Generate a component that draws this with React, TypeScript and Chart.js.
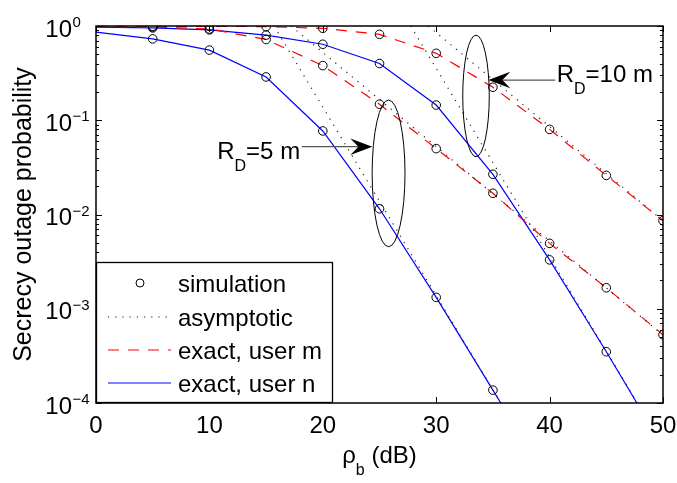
import React, { useEffect, useRef } from 'react';
import { Chart, registerables } from 'chart.js';

Chart.register(...registerables);

// ---------------- data ----------------
const snrDb = [0, 5, 10, 15, 20, 25, 30, 35, 40, 45, 50];
const exactUserM_RD5 = [0.985, 0.975, 0.93, 0.72, 0.38, 0.148, 0.05, 0.0168, 0.00494, 0.00167, 0.00053];
const exactUserM_RD10 = [0.995, 0.994, 0.992, 0.985, 0.945, 0.816, 0.513, 0.224, 0.08, 0.026, 0.0086];

const snrUserN_RD5 = [0, 5, 10, 15, 20, 25, 30, 35, 35.7];
const exactUserN_RD5 = [0.86, 0.73, 0.555, 0.288, 0.077, 0.0115, 0.00132, 0.000137, 0.0001];
const snrUserN_RD10 = [0, 5, 10, 15, 20, 25, 30, 35, 40, 45, 47.7];
const exactUserN_RD10 = [0.975, 0.955, 0.91, 0.8, 0.64, 0.4, 0.145, 0.0267, 0.0033, 0.00035, 0.0001];

const simSnrDb = [5, 10, 15, 20, 25, 30, 35, 40, 45, 50];
const simUserM_RD5 = [0.975, 0.93, 0.72, 0.38, 0.148, 0.05, 0.0168, 0.00494, 0.00167, 0.00053];
const simUserM_RD10 = [0.994, 0.992, 0.985, 0.945, 0.816, 0.513, 0.224, 0.08, 0.026, 0.0086];
const simUserN_RD5 = [0.73, 0.555, 0.288, 0.077, 0.0115, 0.00132, 0.000137, null, null, null];
const simUserN_RD10 = [0.955, 0.91, 0.8, 0.64, 0.4, 0.145, 0.0267, 0.0033, 0.00035, null];

const asymSnrUserM_RD5 = [17.2, 50];
const asymUserM_RD5 = [1, 0.000525];
const asymSnrUserN_RD5 = [15.7, 35.7];
const asymUserN_RD5 = [1, 0.0001];
const asymSnrUserM_RD10 = [29.3, 50];
const asymUserM_RD10 = [1, 0.0086];
const asymSnrUserN_RD10 = [27.75, 47.75];
const asymUserN_RD10 = [1, 0.0001];

const xTickValues = [0, 10, 20, 30, 40, 50];
const yTickExponents = [0, -1, -2, -3, -4];
const legendLabels = ['simulation', 'asymptotic', 'exact, user m', 'exact, user n'];
const xTitleParts = ['\u03c1', 'b', ' (dB)'];
const yTitle = 'Secrecy outage probability';

// annotations, anchored in data coordinates
const annotations = [
  {
    main: 'R', sub: 'D', rest: '=5 m', align: 'right',
    textAt: [18.0, 0.0388],
    arrowFrom: [18.14, 0.0524], arrowTo: [24.37, 0.0524],
    ellipse: { cx: 25.8, rx: 1.45, yTop: 0.164, yBottom: 0.00455 },
  },
  {
    main: 'R', sub: 'D', rest: '=10 m', align: 'left',
    textAt: [40.62, 0.2545],
    arrowFrom: [40.5, 0.267], arrowTo: [34.6, 0.267],
    ellipse: { cx: 33.51, rx: 1.17, yTop: 0.8, yBottom: 0.041 },
  },
];

// ---------------- styles ----------------
const FONT = '"Liberation Sans", Arial, Helvetica, sans-serif';
const RED = '#ff0000';
const BLUE = '#0000ff';
const DOT = '#222222';
const RED_DASH = [11, 9];
const DOT_DASH = [1.2, 6];
const RED_W = 1.2;
const BLUE_W = 1.2;
const DOT_W = 1.2;

const legendStyles = [
  { kind: 'marker', color: '#000', width: 1, dash: [] as number[] },
  { kind: 'line', color: DOT, width: DOT_W, dash: DOT_DASH },
  { kind: 'line', color: RED, width: RED_W, dash: RED_DASH },
  { kind: 'line', color: BLUE, width: BLUE_W, dash: [] as number[] },
];

const pts = (xs: number[], ys: (number | null)[]) =>
  xs.map((x, i) => ({ x, y: ys[i] })).filter((p) => p.y !== null);

const decorPlugin = {
  id: 'matlabDecor',
  afterDraw(chart: any) {
    const { ctx, chartArea: a } = chart;
    const xs = chart.scales.x;
    const ys = chart.scales.y;
    ctx.save();

    // ---- annotations (ellipses, arrows, labels) ----
    for (const an of annotations) {
      const cx = xs.getPixelForValue(an.ellipse.cx);
      const rx = xs.getPixelForValue(an.ellipse.cx + an.ellipse.rx) - cx;
      const top = ys.getPixelForValue(an.ellipse.yTop);
      const bot = ys.getPixelForValue(an.ellipse.yBottom);
      ctx.strokeStyle = '#000';
      ctx.lineWidth = 1;
      ctx.setLineDash([]);
      ctx.beginPath();
      ctx.ellipse(cx, (top + bot) / 2, rx, (bot - top) / 2, 0, 0, Math.PI * 2);
      ctx.stroke();

      const fx = xs.getPixelForValue(an.arrowFrom[0]);
      const fy = ys.getPixelForValue(an.arrowFrom[1]);
      const tx = xs.getPixelForValue(an.arrowTo[0]);
      const ty = ys.getPixelForValue(an.arrowTo[1]);
      const ang = Math.atan2(ty - fy, tx - fx);
      const c = Math.cos(ang), s = Math.sin(ang);
      const L = 22, W = 8.3, N = 14;
      ctx.strokeStyle = '#555';
      ctx.lineWidth = 1.3;
      ctx.beginPath();
      ctx.moveTo(fx, fy);
      ctx.lineTo(tx - N * c, ty - N * s);
      ctx.stroke();
      const P = (u: number, v: number) => [tx + u * c - v * s, ty + u * s + v * c];
      ctx.fillStyle = '#000';
      ctx.beginPath();
      let p = P(0, 0); ctx.moveTo(p[0], p[1]);
      p = P(-L, W); ctx.lineTo(p[0], p[1]);
      p = P(-N, 0); ctx.lineTo(p[0], p[1]);
      p = P(-L, -W); ctx.lineTo(p[0], p[1]);
      ctx.closePath();
      ctx.fill();

      const bx = xs.getPixelForValue(an.textAt[0]);
      const by = ys.getPixelForValue(an.textAt[1]);
      ctx.font = `24px ${FONT}`;
      const wMain = ctx.measureText(an.main).width;
      const wRest = ctx.measureText(an.rest).width;
      ctx.font = `16px ${FONT}`;
      const wSub = ctx.measureText(an.sub).width;
      const total = wMain + wSub + wRest;
      const x0 = an.align === 'right' ? bx - total : bx;
      ctx.fillStyle = '#000';
      ctx.textAlign = 'left';
      ctx.textBaseline = 'alphabetic';
      ctx.font = `24px ${FONT}`;
      ctx.fillText(an.main, x0, by);
      ctx.fillText(an.rest, x0 + wMain + wSub, by);
      ctx.font = `16px ${FONT}`;
      ctx.fillText(an.sub, x0 + wMain, by + 12);
    }

    // ---- frame ----
    ctx.setLineDash([]);
    ctx.strokeStyle = '#000';
    ctx.lineWidth = 1.5;
    ctx.strokeRect(a.left, a.top, a.right - a.left, a.bottom - a.top);

    // ---- x ticks ----
    ctx.lineWidth = 1;
    ctx.fillStyle = '#000';
    ctx.font = `24px ${FONT}`;
    ctx.textAlign = 'center';
    ctx.textBaseline = 'alphabetic';
    for (const t of xTickValues) {
      const px = Math.round(xs.getPixelForValue(t)) + 0.5;
      ctx.beginPath();
      ctx.moveTo(px, a.bottom); ctx.lineTo(px, a.bottom - 6);
      ctx.moveTo(px, a.top); ctx.lineTo(px, a.top + 6);
      ctx.stroke();
      ctx.fillText(String(t), xs.getPixelForValue(t), a.bottom + 30);
    }

    // ---- y ticks ----
    for (const e of yTickExponents) {
      const v = Math.pow(10, e);
      const py = Math.round(ys.getPixelForValue(v)) + 0.5;
      ctx.beginPath();
      ctx.moveTo(a.left, py); ctx.lineTo(a.left + 6, py);
      ctx.moveTo(a.right, py); ctx.lineTo(a.right - 6, py);
      ctx.stroke();
      if (e < 0) {
        for (let m = 2; m <= 9; m++) {
          const my = Math.round(ys.getPixelForValue(v * m)) + 0.5;
          ctx.beginPath();
          ctx.moveTo(a.left, my); ctx.lineTo(a.left + 3, my);
          ctx.moveTo(a.right, my); ctx.lineTo(a.right - 3, my);
          ctx.stroke();
        }
      }
      const ly = ys.getPixelForValue(v);
      const lx = a.left - 24;
      ctx.font = `24px ${FONT}`;
      ctx.textAlign = 'right';
      ctx.fillText('10', lx, ly + 10.5);
      ctx.font = `15px ${FONT}`;
      ctx.textAlign = 'left';
      ctx.fillText(e === 0 ? '0' : '\u2212' + String(-e), lx + 0.5, ly + 1);
    }

    // ---- axis titles ----
    ctx.font = `24px ${FONT}`;
    const w0 = ctx.measureText(xTitleParts[0]).width;
    const w2 = ctx.measureText(xTitleParts[2]).width;
    ctx.font = `16px ${FONT}`;
    const w1 = ctx.measureText(xTitleParts[1]).width;
    const xc = (a.left + a.right) / 2;
    const xStart = xc - (w0 + w1 + w2) / 2;
    const xb = a.bottom + 60;
    ctx.textAlign = 'left';
    ctx.font = `24px ${FONT}`;
    ctx.fillText(xTitleParts[0], xStart, xb);
    ctx.fillText(xTitleParts[2], xStart + w0 + w1, xb);
    ctx.font = `16px ${FONT}`;
    ctx.fillText(xTitleParts[1], xStart + w0, xb + 12);

    ctx.save();
    ctx.translate(31, (a.top + a.bottom) / 2);
    ctx.rotate(-Math.PI / 2);
    ctx.font = `25px ${FONT}`;
    ctx.textAlign = 'center';
    ctx.textBaseline = 'alphabetic';
    ctx.fillText(yTitle, 0, 0);
    ctx.restore();

    // ---- legend ----
    const lw = 237, lh = 141;
    const lx0 = a.left, ly0 = a.bottom - lh;
    ctx.fillStyle = '#fff';
    ctx.fillRect(lx0, ly0, lw, lh);
    ctx.strokeStyle = '#000';
    ctx.lineWidth = 1.3;
    ctx.setLineDash([]);
    ctx.strokeRect(lx0 + 0.5, ly0 + 0.5, lw - 1, lh - 1);
    const rowY = [21, 55, 88, 121];
    legendLabels.forEach((lab, i) => {
      const y = ly0 + rowY[i];
      const st = legendStyles[i];
      if (st.kind === 'marker') {
        ctx.setLineDash([]);
        ctx.strokeStyle = st.color;
        ctx.lineWidth = st.width;
        ctx.beginPath();
        ctx.arc(lx0 + 44, y, 4, 0, Math.PI * 2);
        ctx.stroke();
      } else {
        ctx.strokeStyle = st.color;
        ctx.lineWidth = st.width;
        ctx.setLineDash(st.dash);
        ctx.beginPath();
        ctx.moveTo(lx0 + 12, y);
        ctx.lineTo(lx0 + 75, y);
        ctx.stroke();
        ctx.setLineDash([]);
      }
      ctx.fillStyle = '#000';
      ctx.font = `24px ${FONT}`;
      ctx.textAlign = 'left';
      ctx.textBaseline = 'alphabetic';
      ctx.fillText(lab, lx0 + 82, y + 8.5);
    });

    ctx.restore();
  },
};

export default function App() {
  const ref = useRef<HTMLCanvasElement>(null);
  useEffect(() => {
    const canvas = ref.current;
    if (!canvas) return;
    const simPoints = [simUserM_RD5, simUserM_RD10, simUserN_RD5, simUserN_RD10].flatMap((s) =>
      pts(simSnrDb, s)
    );
    const chart = new Chart(canvas, {
      type: 'line',
      data: {
        datasets: [
          {
            label: 'simulation',
            data: simPoints as any,
            showLine: false,
            pointStyle: 'circle',
            pointRadius: 4.3,
            pointBorderWidth: 1,
            pointBorderColor: '#000',
            pointBackgroundColor: 'rgba(0,0,0,0)',
            borderColor: '#000',
          },
          {
            label: 'asymptotic m RD5',
            data: pts(asymSnrUserM_RD5, asymUserM_RD5) as any,
            borderColor: DOT, borderWidth: DOT_W, borderDash: DOT_DASH, pointRadius: 0,
          },
          {
            label: 'asymptotic n RD5',
            data: pts(asymSnrUserN_RD5, asymUserN_RD5) as any,
            borderColor: DOT, borderWidth: DOT_W, borderDash: DOT_DASH, pointRadius: 0,
          },
          {
            label: 'exact, user m RD5',
            data: pts(snrDb, exactUserM_RD5) as any,
            borderColor: RED, borderWidth: RED_W, borderDash: RED_DASH, pointRadius: 0,
          },
          {
            label: 'exact, user m RD10',
            data: pts(snrDb, exactUserM_RD10) as any,
            borderColor: RED, borderWidth: RED_W, borderDash: RED_DASH, pointRadius: 0,
          },
          {
            label: 'exact, user n RD5',
            data: pts(snrUserN_RD5, exactUserN_RD5) as any,
            borderColor: BLUE, borderWidth: BLUE_W, pointRadius: 0,
          },
          {
            label: 'exact, user n RD10',
            data: pts(snrUserN_RD10, exactUserN_RD10) as any,
            borderColor: BLUE, borderWidth: BLUE_W, pointRadius: 0,
          },
          {
            label: 'asymptotic m RD10',
            data: pts(asymSnrUserM_RD10, asymUserM_RD10) as any,
            borderColor: DOT, borderWidth: DOT_W, borderDash: DOT_DASH, pointRadius: 0,
          },
          {
            label: 'asymptotic n RD10',
            data: pts(asymSnrUserN_RD10, asymUserN_RD10) as any,
            borderColor: DOT, borderWidth: DOT_W, borderDash: DOT_DASH, pointRadius: 0,
          },
        ],
      },
      options: {
        responsive: false,
        animation: false,
        events: [],
        layout: { padding: { left: 96, right: 14, top: 26, bottom: 80 } },
        elements: { line: { tension: 0 } },
        scales: {
          x: { type: 'linear', min: 0, max: 50, display: false },
          y: { type: 'logarithmic', min: 1e-4, max: 1, display: false },
        },
        plugins: { legend: { display: false }, tooltip: { enabled: false } },
      },
      plugins: [decorPlugin],
    });
    return () => chart.destroy();
  }, []);
  return (
    <div style={{ position: 'absolute', left: 0, top: 0, width: 677, height: 483, background: '#fff' }}>
      <canvas ref={ref} width={677} height={483} style={{ width: 677, height: 483, display: 'block' }} />
    </div>
  );
}
